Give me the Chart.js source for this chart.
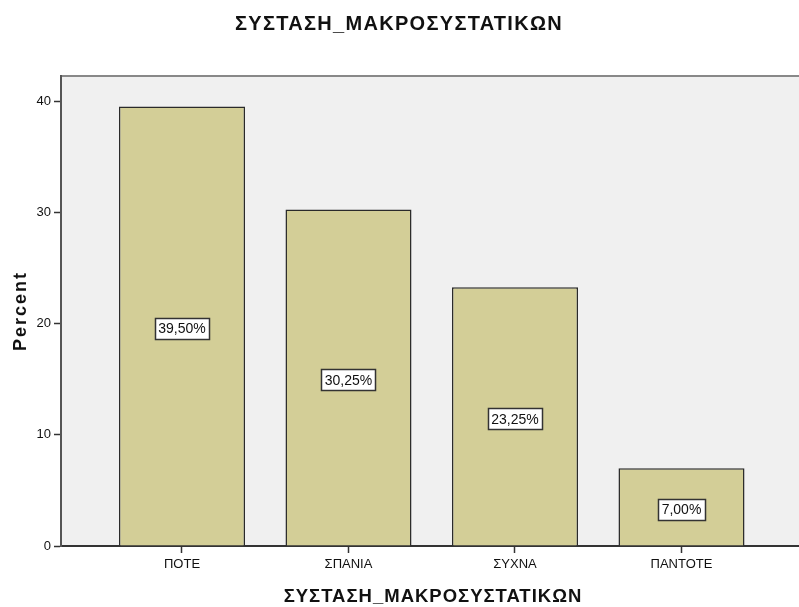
<!DOCTYPE html>
<html lang="el">
<head>
    <meta charset="UTF-8">
    <title>ΣΥΣΤΑΣΗ_ΜΑΚΡΟΣΥΣΤΑΤΙΚΩΝ</title>
    <script src="https://cdn.jsdelivr.net/npm/chart.js"></script>
    <style>
        html, body { margin: 0; padding: 0; background: #fff; overflow: hidden; }
        #wrap { width: 799px; height: 607px; }
    </style>
</head>
<body>
<div id="wrap"><canvas id="chart" width="799" height="607"></canvas></div>
<script>
    // data
    var categories = ['ΠΟΤΕ', 'ΣΠΑΝΙΑ', 'ΣΥΧΝΑ', 'ΠΑΝΤΟΤΕ'];
    var percentValues = [39.5, 30.25, 23.25, 7.0];
    var yTicks = [0, 10, 20, 30, 40];
    var chartTitle = 'ΣΥΣΤΑΣΗ_ΜΑΚΡΟΣΥΣΤΑΤΙΚΩΝ';
    var xTitle = 'ΣΥΣΤΑΣΗ_ΜΑΚΡΟΣΥΣΤΑΤΙΚΩΝ';
    var yTitle = 'Percent';

    var mainFont = '"Liberation Sans", Arial, sans-serif';

    // grey plot background + top border
    var plotBg = {
        id: 'plotBg',
        beforeDraw: function (chart) {
            var a = chart.chartArea, ctx = chart.ctx;
            ctx.save();
            ctx.fillStyle = '#f0f0f0';
            ctx.fillRect(a.left, a.top, a.right - a.left, a.bottom - a.top);
            ctx.strokeStyle = '#888888';
            ctx.lineWidth = 2;
            ctx.beginPath();
            ctx.moveTo(a.left, a.top);
            ctx.lineTo(a.right, a.top);
            ctx.stroke();
            ctx.restore();
        }
    };

    // titles drawn with a bit of letter spacing (SPSS look)
    var spacedTitles = {
        id: 'spacedTitles',
        afterDraw: function (chart) {
            var ctx = chart.ctx, a = chart.chartArea;
            ctx.save();
            ctx.fillStyle = '#111';
            ctx.textAlign = 'center';
            ctx.textBaseline = 'alphabetic';

            ctx.font = 'bold 20px ' + mainFont;
            ctx.letterSpacing = '1.3px';
            ctx.fillText(chartTitle, 399, 29.5);

            ctx.font = 'bold 18.5px ' + mainFont;
            ctx.letterSpacing = '1px';
            ctx.fillText(xTitle, 433, 602);

            ctx.font = 'bold 18px ' + mainFont;
            ctx.letterSpacing = '2px';
            ctx.translate(25.5, (a.top + a.bottom) / 2);
            ctx.rotate(-Math.PI / 2);
            ctx.fillText(yTitle, 0, 0);
            ctx.restore();
        }
    };

    // boxed value labels in the middle of each bar
    var valueBoxes = {
        id: 'valueBoxes',
        afterDatasetsDraw: function (chart) {
            var ctx = chart.ctx;
            var meta = chart.getDatasetMeta(0);
            var yScale = chart.scales.y;
            ctx.save();
            ctx.font = '14px ' + mainFont;
            ctx.textAlign = 'center';
            ctx.textBaseline = 'middle';
            meta.data.forEach(function (bar, i) {
                var v = percentValues[i];
                var txt = v.toFixed(2).replace('.', ',') + '%';
                var cx = bar.x;
                var cy = yScale.getPixelForValue(v / 2) + 2;
                var w = Math.round(ctx.measureText(txt).width + 7);
                var h = 21;
                var bx = Math.round(cx - w / 2) + 0.5;
                var by = Math.round(cy - h / 2) + 0.5;
                ctx.fillStyle = '#ffffff';
                ctx.fillRect(bx, by, w, h);
                ctx.strokeStyle = '#333333';
                ctx.lineWidth = 1.5;
                ctx.strokeRect(bx, by, w, h);
                ctx.fillStyle = '#111111';
                ctx.fillText(txt, cx, cy + 1);
            });
            ctx.restore();
        }
    };

    var ctx = document.getElementById('chart').getContext('2d');
    new Chart(ctx, {
        type: 'bar',
        data: {
            datasets: [{
                data: percentValues.map(function (v, i) { return { x: i, y: v }; }),
                backgroundColor: '#d3ce97',
                borderColor: '#2a2a2a',
                borderWidth: 1.5,
                barPercentage: 0.757,
                categoryPercentage: 1
            }]
        },
        options: {
            responsive: false,
            animation: false,
            layout: { padding: { left: 0, right: 0, top: 76, bottom: 0 } },
            plugins: {
                legend: { display: false },
                tooltip: { enabled: false },
                title: { display: false }
            },
            scales: {
                x: {
                    type: 'linear',
                    offset: false,
                    min: -0.7267,
                    max: 3.7057,
                    afterBuildTicks: function (scale) {
                        scale.ticks = categories.map(function (c, i) { return { value: i }; });
                    },
                    afterFit: function (scale) { scale.height = 61; },
                    ticks: {
                        callback: function (value) { return categories[value]; },
                        color: '#111',
                        padding: 4,
                        maxRotation: 0,
                        autoSkip: false,
                        font: { family: mainFont, size: 13 }
                    },
                    grid: {
                        offset: false,
                        drawOnChartArea: false,
                        tickLength: 7,
                        tickColor: '#333',
                        tickWidth: 1.5
                    },
                    border: { color: '#333', width: 2 },
                    title: { display: false }
                },
                y: {
                    min: 0,
                    max: 42.25,
                    afterBuildTicks: function (scale) {
                        scale.ticks = yTicks.map(function (v) { return { value: v }; });
                    },
                    afterFit: function (scale) { scale.width = 61; },
                    ticks: {
                        color: '#111',
                        padding: 3,
                        font: { family: mainFont, size: 13 }
                    },
                    grid: {
                        drawOnChartArea: false,
                        tickLength: 7,
                        tickColor: '#333',
                        tickWidth: 1.5
                    },
                    border: { color: '#555', width: 2 },
                    title: { display: false }
                }
            }
        },
        plugins: [plotBg, valueBoxes, spacedTitles]
    });
</script>
</body>
</html>
